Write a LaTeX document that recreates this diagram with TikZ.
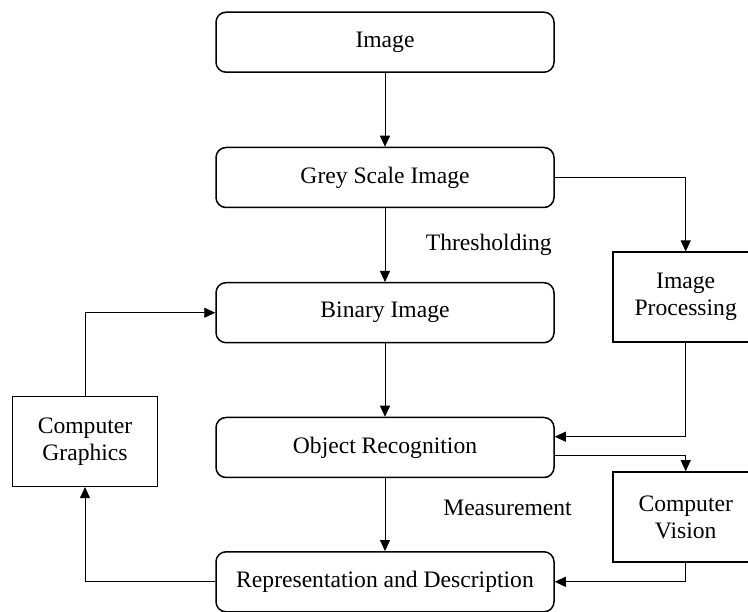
\documentclass[tikz,border=0pt]{standalone}
\usepackage{fontspec}
\setmainfont{Liberation Serif}
\usetikzlibrary{arrows.meta,calc}
\begin{document}
\begin{tikzpicture}[x=1pt,y=-1pt,
  every node/.style={font=\fontsize{23.6}{27}\selectfont},
  mainbox/.style={draw,line width=1.5pt,rounded corners=10pt,minimum width=338pt,minimum height=60pt,inner sep=0pt},
  sidebox/.style={draw,line width=1.5pt,minimum width=145pt,minimum height=90pt,inner sep=0pt,align=center},
  arr/.style={line width=0.9pt,-{Triangle[length=11pt,width=10pt]}},
  conn/.style={line width=0.9pt},
  lbl/.style={inner sep=0pt}]
\useasboundingbox (0,0) rectangle (748,612);
\clip (0,0) rectangle (748,612);
\node[mainbox] (img) at (385,42.2) {Image};
\node[mainbox] (grey) at (385,177.5) {Grey Scale Image};
\node[mainbox] (bin) at (385,312.7) {Binary Image};
\node[mainbox] (obj) at (385,447.5) {Object Recognition};
\node[mainbox] (rep) at (385,581.8) {Representation and Description};
\node[sidebox] (ip) at (685.7,297.2) {Image\\Processing};
\node[sidebox] (cg) at (85,441.3) {Computer\\Graphics};
\node[sidebox] (cv) at (685.7,517) {Computer\\Vision};
\node[lbl] (thr) at (488.8,245) {Thresholding};
\node[lbl] (meas) at (507.5,508.3) {Measurement};
\draw[arr] (img) -- (grey);
\draw[arr] (grey) -- (bin);
\draw[arr] (bin) -- (obj);
\draw[arr] (obj) -- (rep);
\draw[arr] (grey.east) -| (ip.north);
\draw[arr] (ip.south) |- ([yshift=10.8pt]obj.east);
\draw[arr] ([yshift=-7.8pt]obj.east) -| (cv.north);
\draw[arr] (cv.south) |- (rep.east);
\draw[arr] (rep.west) -| (cg.south);
\draw[arr] (cg.north) |- (bin.west);
\end{tikzpicture}
\end{document}
